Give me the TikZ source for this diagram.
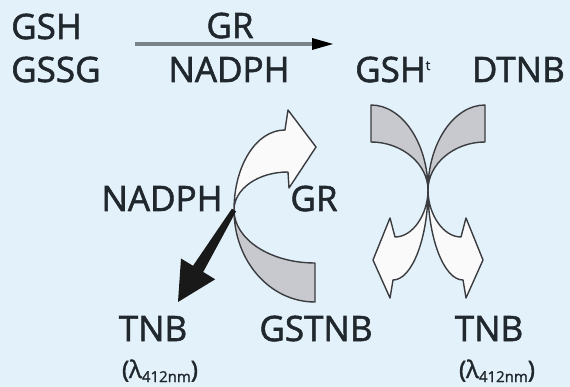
\documentclass[tikz,border=0pt]{standalone}
\usepackage{fontspec}
\setmainfont{Open Sans}[FakeBold=1.6]
\definecolor{bg}{HTML}{E3F1FB}
\definecolor{txt}{HTML}{20282D}
\definecolor{edge}{HTML}{3A3C3F}
\definecolor{grayfill}{HTML}{C7C9CE}
\definecolor{whitefill}{HTML}{FAFAFB}
\definecolor{linegray}{HTML}{7A8389}
\begin{document}
\begin{tikzpicture}[x=1pt,y=-1pt,
  lbl/.style={font=\fontsize{35}{40}\selectfont, text=txt, inner sep=0pt, anchor=base},
  lam/.style={font=\fontsize{24}{28}\selectfont, text=txt, inner sep=0pt, anchor=base},
  band/.style={draw=edge, line width=1.4pt, line join=round},
  grayband/.style={band, fill=grayfill},
  whiteband/.style={band, fill=whitefill}]
\fill[bg] (0,0) rectangle (570,387);
\useasboundingbox (0,0) rectangle (570,387);

% top row
\node[lbl, anchor=base west] (gsh) at (11,39) {GSH};
\node[lbl, anchor=base west] (gssg) at (11,82) {GSSG};
\node[lbl] (gr1) at (230,38) {GR};
\node[lbl] (nadph1) at (229,82) {NADPH};
\node[lbl, anchor=base west] (gsht) at (355,82) {GSH\raisebox{12pt}{\fontsize{13}{13}\selectfont t}};
\node[lbl, anchor=base east] (dtnb) at (565,82) {DTNB};

\coordinate (a0) at (135,44);
\coordinate (a1) at (314,44);
\coordinate (a2) at (333,44);
\draw[linegray, line width=4pt] (a0) -- (a1);
\fill[black] (312,38) -- (a2) -- (312,50) -- cycle;

% left group
\coordinate (x0) at (234,210);
\path[grayband] (x0) .. controls (234,261) and (270,302) .. (315,302) -- (315,263)
   .. controls (270,263) and (234,239) .. (x0) -- cycle;
\path[whiteband] (x0) .. controls (234,166) and (256,130) .. (285,130) -- (288,110)
   -- (316,147) -- (289,188) -- (288,172) .. controls (258,172) and (234,189) .. (x0) -- cycle;
\fill[black!90] (231.9,208.7) -- (236.1,211.3) -- (203.2,272.0) -- (215.2,279.3)
   -- (178,302) -- (181.0,258.5) -- (193.0,265.8) -- cycle;

% right group
\coordinate (x1) at (428,190);
\path[whiteband] (x1) .. controls (428,214) and (413,237) .. (395,237) -- (390,218)
   -- (373,260) -- (390,298) -- (393,280) .. controls (412,280) and (428,238) .. (x1) -- cycle;
\path[whiteband] (x1) .. controls (428,214) and (443,237) .. (461,237) -- (466,218)
   -- (483,260) -- (466,298) -- (463,280) .. controls (444,280) and (428,238) .. (x1) -- cycle;
\path[grayband] (x1) .. controls (428,143) and (402,105) .. (371,105) -- (371,142)
   .. controls (402,142) and (428,164) .. (x1) -- cycle;
\path[grayband] (x1) .. controls (428,143) and (454,105) .. (485,105) -- (485,142)
   .. controls (454,142) and (428,164) .. (x1) -- cycle;

% middle and bottom labels
\node[lbl] (nadph2) at (162,211) {NADPH};
\node[lbl] (gr2) at (314,211) {GR};
\node[lbl] (tnb1) at (153,341) {TNB};
\node[lbl] (gstnb) at (316,341) {GSTNB};
\node[lbl] (tnb2) at (489,341) {TNB};
\node[lam] (lam1) at (160,378) {(λ\raisebox{-4pt}{\fontsize{15}{15}\selectfont 412nm})};
\node[lam] (lam2) at (497,378) {(λ\raisebox{-4pt}{\fontsize{15}{15}\selectfont 412nm})};
\end{tikzpicture}
\end{document}
